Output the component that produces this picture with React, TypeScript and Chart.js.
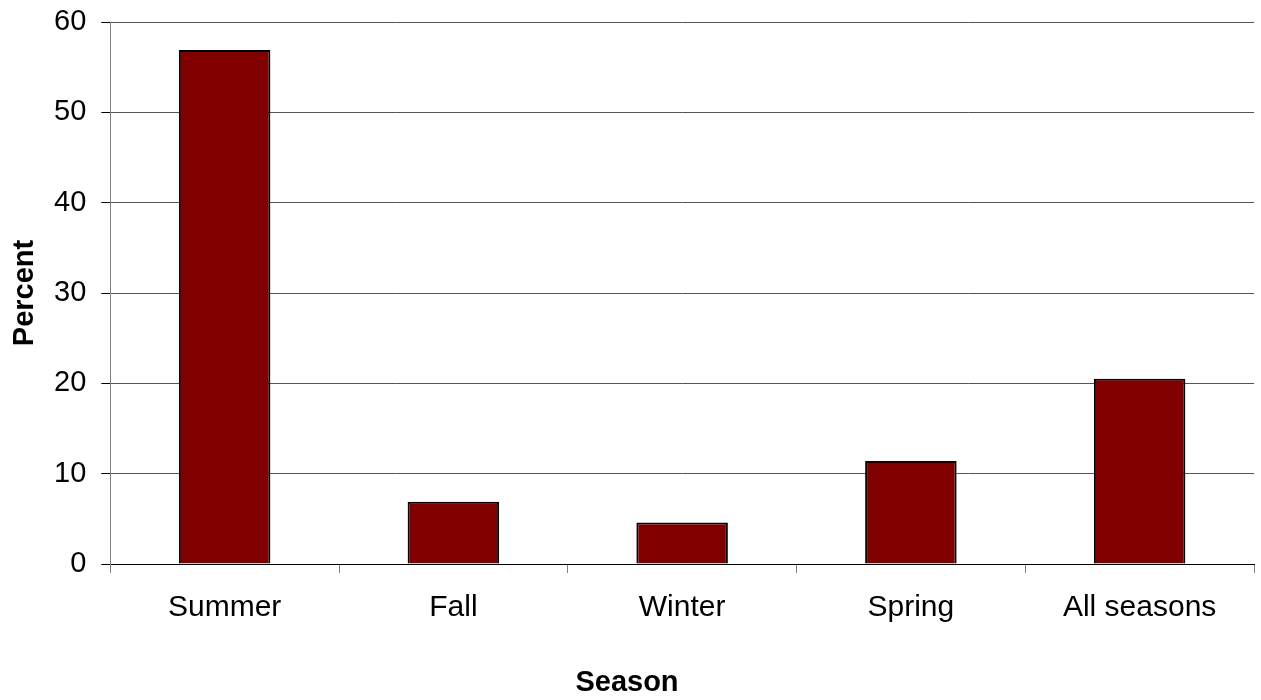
import React, { useEffect, useRef } from "react";
import { Chart, registerables } from "chart.js";

Chart.register(...registerables);

const categories = ["Summer", "Fall", "Winter", "Spring", "All seasons"];
const percentValues = [56.9, 6.9, 4.6, 11.4, 20.5];
const yTickMin = 0;
const yTickMax = 60;
const yTickStep = 10;
const xAxisTitle = "Season";
const yAxisTitle = "Percent";

const FONT = "'Liberation Sans', Arial, Helvetica, sans-serif";

export default function App() {
  const canvasRef = useRef<HTMLCanvasElement | null>(null);

  useEffect(() => {
    if (!canvasRef.current) return;
    const chart = new Chart(canvasRef.current, {
      type: "bar",
      data: {
        labels: categories,
        datasets: [
          {
            label: yAxisTitle,
            data: percentValues,
            backgroundColor: "#800000",
            borderColor: "#000000",
            borderWidth: 2,
            barPercentage: 0.4,
            categoryPercentage: 1,
          },
        ],
      },
      options: {
        animation: false,
        responsive: false,
        maintainAspectRatio: false,
        layout: { padding: { top: 22, right: 7, left: 0, bottom: 0 } },
        plugins: {
          legend: { display: false },
          tooltip: { enabled: false },
          title: {
            display: true,
            position: "bottom",
            text: xAxisTitle,
            color: "#000",
            font: { family: FONT, size: 29, weight: "bold", lineHeight: 1 },
            padding: { top: 25, bottom: 3 },
          },
        },
        scales: {
          x: {
            grid: {
              display: true,
              drawOnChartArea: false,
              drawTicks: true,
              tickLength: 9,
              offset: true,
              color: "#808080",
              tickColor: "#808080",
            },
            border: { display: true, color: "#000", width: 1 },
            ticks: {
              color: "#000",
              padding: 17,
              font: { family: FONT, size: 30 },
              maxRotation: 0,
              autoSkip: false,
            },
          },
          y: {
            min: yTickMin,
            max: yTickMax,
            afterFit: (scale: any) => {
              scale.paddingTop = 0;
            },
            ticks: {
              stepSize: yTickStep,
              color: "#000",
              padding: 15,
              font: { family: FONT, size: 29 },
            },
            grid: {
              color: (ctx: any) => (ctx.tick && ctx.tick.value === 0 ? "#000" : "#555"),
              tickColor: "#000",
              tickLength: 9,
              lineWidth: 1,
            },
            border: { display: true, color: "#808080", width: 1 },
            title: {
              display: true,
              text: yAxisTitle,
              color: "#000",
              font: { family: FONT, size: 29, weight: "bold", lineHeight: 1 },
              padding: { top: 10, bottom: 0 },
            },
          },
        },
      },
    });
    return () => chart.destroy();
  }, []);

  return (
    <div style={{ position: "absolute", left: 0, top: 0, width: 1261, height: 700, background: "#fff" }}>
      <canvas ref={canvasRef} width={1261} height={700} style={{ display: "block" }} />
    </div>
  );
}
